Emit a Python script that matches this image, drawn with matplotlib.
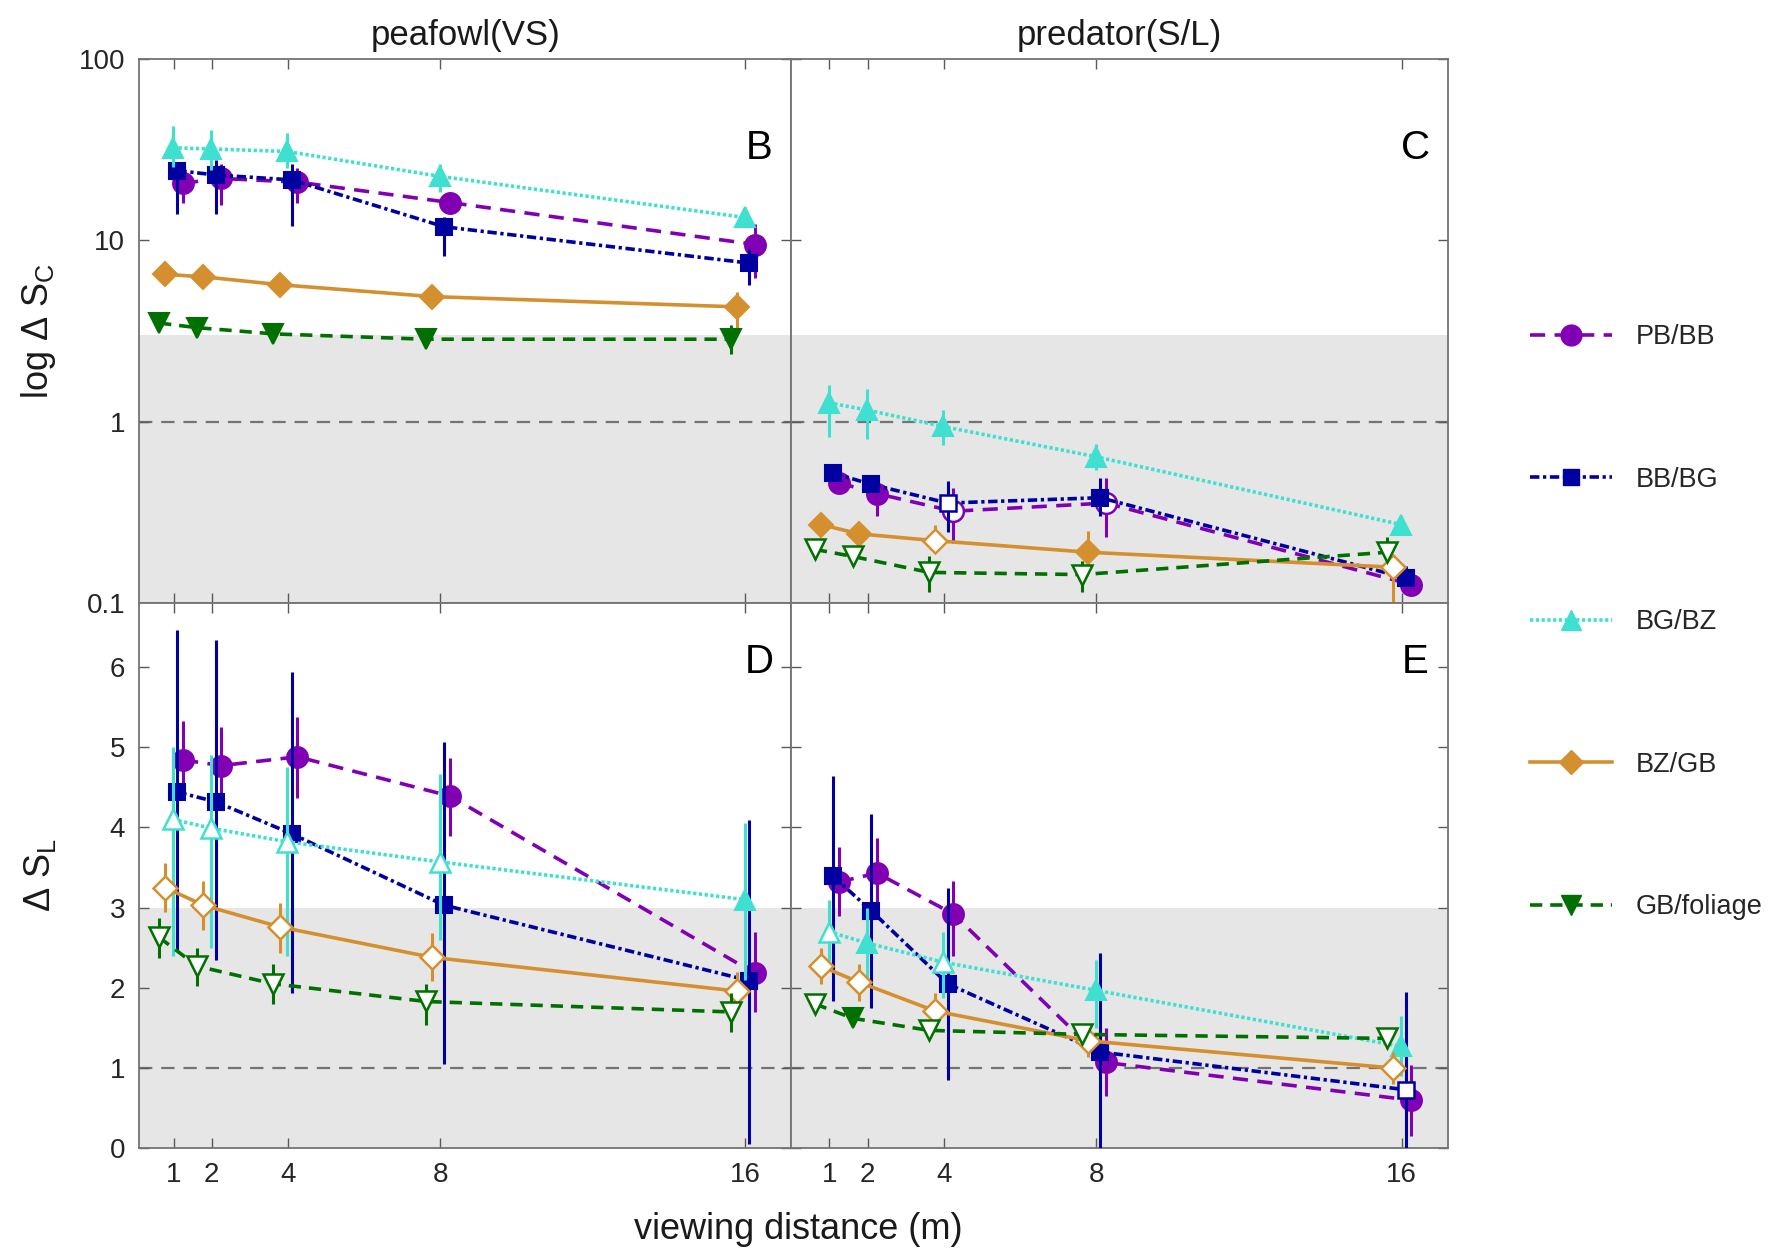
import matplotlib.pyplot as plt
from matplotlib.lines import Line2D
from matplotlib.ticker import NullLocator

plt.rcParams['font.family'] = ['Liberation Sans', 'DejaVu Sans']
plt.rcParams['mathtext.fontset'] = 'custom'
plt.rcParams['mathtext.rm'] = 'Liberation Sans'

# distancias de observacao (m)
distances = [1, 2, 4, 8, 16]
series = ['PB/BB', 'BB/BG', 'BG/BZ', 'BZ/GB', 'GB/foliage']
# deslocamento horizontal de cada serie (como no original)
x_offsets = [0.25, 0.1, -0.02, -0.22, -0.38]

# painel B: peafowl, log dS_C  (linhas na ordem de "series")
B_mean = [[20.7, 22.0, 21.0, 16.2, 9.5],
          [24.3, 23.0, 21.6, 11.9, 7.5],
          [32.5, 32.0, 31.0, 22.6, 13.4],
          [6.5, 6.3, 5.7, 4.9, 4.3],
          [3.5, 3.3, 3.05, 2.85, 2.85]]
B_lo = [[16.2, 15.7, 16.0, 14.0, 6.2],
        [14.0, 14.0, 12.0, 8.2, 5.7],
        [25.4, 24.6, 25.0, 18.5, 12.3],
        [6.1, 5.9, 5.3, 4.5, 3.3],
        [3.3, 3.1, 2.85, 2.6, 2.35]]
B_hi = [[25.4, 26.5, 25.0, 18.5, 12.3],
        [27.0, 27.7, 26.5, 13.4, 9.0],
        [42.8, 40.5, 39.0, 26.5, 15.3],
        [6.9, 6.7, 6.1, 5.3, 5.2],
        [3.7, 3.5, 3.25, 3.2, 3.4]]
B_open = [[0, 0, 0, 0, 0], [0, 0, 0, 0, 0], [0, 0, 0, 0, 0],
          [0, 0, 0, 0, 0], [0, 0, 0, 0, 0]]

# painel C: predator, log dS_C
C_mean = [[0.46, 0.40, 0.32, 0.355, 0.126],
          [0.52, 0.45, 0.355, 0.38, 0.137],
          [1.27, 1.16, 0.94, 0.64, 0.27],
          [0.27, 0.24, 0.22, 0.19, 0.157],
          [0.197, 0.18, 0.147, 0.143, 0.19]]
C_lo = [[0.43, 0.30, 0.215, 0.23, 0.115],
        [0.48, 0.41, 0.247, 0.30, 0.125],
        [0.82, 0.80, 0.74, 0.54, 0.25],
        [0.25, 0.22, 0.19, 0.15, 0.09],
        [0.175, 0.16, 0.115, 0.115, 0.17]]
C_hi = [[0.50, 0.47, 0.43, 0.49, 0.14],
        [0.56, 0.49, 0.47, 0.49, 0.16],
        [1.59, 1.52, 1.16, 0.75, 0.29],
        [0.29, 0.26, 0.27, 0.25, 0.18],
        [0.215, 0.20, 0.18, 0.17, 0.23]]
C_open = [[0, 0, 1, 1, 0], [0, 0, 1, 0, 0], [0, 0, 0, 0, 0],
          [0, 0, 1, 0, 1], [1, 1, 1, 1, 1]]

# painel D: peafowl, dS_L
D_mean = [[4.84, 4.77, 4.88, 4.39, 2.18],
          [4.44, 4.32, 3.92, 3.03, 2.09],
          [4.10, 3.99, 3.82, 3.57, 3.10],
          [3.25, 3.03, 2.76, 2.38, 1.96],
          [2.63, 2.27, 2.05, 1.83, 1.70]]
D_lo = [[4.35, 4.30, 4.37, 3.89, 1.70],
        [2.47, 2.35, 1.93, 1.05, 0.05],
        [2.40, 2.50, 2.40, 2.60, 2.10],
        [2.95, 2.72, 2.44, 2.09, 1.76],
        [2.37, 2.02, 1.80, 1.54, 1.45]]
D_hi = [[5.33, 5.25, 5.37, 4.87, 2.70],
        [6.46, 6.33, 5.94, 5.06, 4.09],
        [5.00, 4.90, 4.75, 4.66, 4.05],
        [3.55, 3.33, 3.06, 2.68, 2.20],
        [2.87, 2.50, 2.30, 2.05, 1.94]]
D_open = [[0, 0, 0, 0, 0], [0, 0, 0, 0, 0], [1, 1, 1, 1, 0],
          [1, 1, 1, 1, 1], [1, 1, 1, 1, 1]]

# painel E: predator, dS_L
E_mean = [[3.32, 3.43, 2.92, 1.07, 0.60],
          [3.39, 2.96, 2.05, 1.20, 0.73],
          [2.70, 2.56, 2.32, 1.97, 1.27],
          [2.27, 2.07, 1.71, 1.34, 1.00],
          [1.80, 1.62, 1.47, 1.42, 1.37]]
E_lo = [[2.90, 2.94, 2.40, 0.65, 0.15],
        [1.83, 1.75, 0.85, 0.0, 0.0],
        [2.33, 2.10, 1.87, 1.50, 0.90],
        [2.05, 1.83, 1.50, 1.14, 0.80],
        [1.70, 1.52, 1.37, 1.32, 1.27]]
E_hi = [[3.76, 3.87, 3.33, 1.50, 1.04],
        [4.64, 4.17, 3.25, 2.44, 1.95],
        [3.10, 3.00, 2.70, 2.35, 1.65],
        [2.50, 2.30, 1.93, 1.54, 1.20],
        [1.90, 1.72, 1.57, 1.52, 1.50]]
E_open = [[0, 0, 0, 0, 0], [0, 0, 0, 0, 1], [1, 0, 1, 0, 0],
          [1, 1, 1, 1, 1], [1, 0, 1, 1, 1]]

# estilo de cada serie
colors = ['#8200B4', '#0000A0', '#40E0D0', '#D4902F', '#007000']
markers = ['o', 's', '^', 'D', 'v']
msizes = [15, 11, 15, 12, 15]
dashes = [(4.2, 2.6), (2.6, 1.0, 0.9, 1.0), (0.9, 0.7), (), (3.4, 2.2)]
line_w = 2.6

fig = plt.figure(figsize=(17.9, 12.52), dpi=100)
axB = fig.add_axes([0.0778, 0.5186, 0.3642, 0.4340])
axC = fig.add_axes([0.4420, 0.5186, 0.3667, 0.4340])
axD = fig.add_axes([0.0778, 0.0828, 0.3642, 0.4358])
axE = fig.add_axes([0.4420, 0.0828, 0.3667, 0.4358])

panels = [(axB, B_mean, B_lo, B_hi, B_open, 'B'),
          (axC, C_mean, C_lo, C_hi, C_open, 'C'),
          (axD, D_mean, D_lo, D_hi, D_open, 'D'),
          (axE, E_mean, E_lo, E_hi, E_open, 'E')]

for ax, mean, lo, hi, opn, letter in panels:
    log_panel = letter in ('B', 'C')
    if log_panel:
        ax.set_yscale('log')
    ax.axhspan(0.0 if not log_panel else 0.05, 3, color='#e6e6e6', zorder=0, lw=0)
    ax.axhline(1, color='0.45', lw=1.6, dashes=(6, 4), zorder=1)

    for i in range(len(series)):
        xs = [d + x_offsets[i] for d in distances]
        m = mean[i]
        yerr = [[m[k] - lo[i][k] for k in range(5)], [hi[i][k] - m[k] for k in range(5)]]
        ax.errorbar(xs, m, yerr=yerr, fmt='none', ecolor=colors[i], elinewidth=2.2,
                    capsize=0, zorder=2 + i)
        ax.plot(xs, m, color=colors[i], lw=line_w, dashes=dashes[i], zorder=2 + i)
        xf = [xs[k] for k in range(5) if not opn[i][k]]
        yf = [m[k] for k in range(5) if not opn[i][k]]
        xo = [xs[k] for k in range(5) if opn[i][k]]
        yo = [m[k] for k in range(5) if opn[i][k]]
        ax.plot(xf, yf, ls='none', marker=markers[i], ms=msizes[i], mfc=colors[i],
                mec=colors[i], mew=1.5, zorder=2.5 + i)
        ax.plot(xo, yo, ls='none', marker=markers[i], ms=msizes[i], mfc='white',
                mec=colors[i], mew=1.8, zorder=2.5 + i)

    if log_panel:
        ax.set_ylim(0.1, 100)
        ax.set_yticks([0.1, 1, 10, 100])
        ax.set_yticklabels(['0.1', '1', '10', '100'])
        ax.yaxis.set_minor_locator(NullLocator())
        ax.text(0.951, 0.836, letter, transform=ax.transAxes, fontsize=29,
                ha='center', va='center')
    else:
        ax.set_ylim(0, 6.8)
        ax.set_yticks([0, 1, 2, 3, 4, 5, 6])
        ax.text(0.951, 0.891, letter, transform=ax.transAxes, fontsize=29,
                ha='center', va='center')

    ax.set_xlim(0.1 if ax in (axB, axD) else 0.0, 17.2)
    ax.set_xticks(distances)
    ax.tick_params(direction='in', length=7, width=1, top=True, right=True,
                   labelsize=20, labelcolor='0.15', color='0.35', pad=10)
    for sp in ax.spines.values():
        sp.set_color('0.45')
        sp.set_linewidth(1.3)
    if ax in (axC, axE):
        ax.set_yticklabels([])
    if ax in (axB, axC):
        ax.set_xticklabels([])

axB.set_title('peafowl(VS)', fontsize=25, pad=10, color='0.1')
axC.set_title('predator(S/L)', fontsize=25, pad=10, color='0.1')
axB.set_ylabel(r'log $\Delta$ S$_\mathregular{C}$', fontsize=26, color='0.1')
axD.set_ylabel(r'$\Delta$ S$_\mathregular{L}$', fontsize=26, color='0.1')
axB.yaxis.set_label_coords(-0.125, 0.5)
axD.yaxis.set_label_coords(-0.125, 0.5)
fig.text(0.446, 0.018, 'viewing distance (m)', fontsize=26, ha='center', va='center',
         color='0.1')

handles = [Line2D([], [], color=colors[i], lw=line_w, dashes=dashes[i], marker=markers[i],
                  ms=msizes[i], mfc=colors[i], mec=colors[i]) for i in range(len(series))]
fig.legend(handles, series, loc='center left', bbox_to_anchor=(0.855, 0.503),
           frameon=False, fontsize=19.5, handlelength=3.0, handletextpad=0.9,
           labelspacing=4.3, borderaxespad=0, borderpad=0, labelcolor='0.15')

fig.savefig('out.png', dpi=100)
